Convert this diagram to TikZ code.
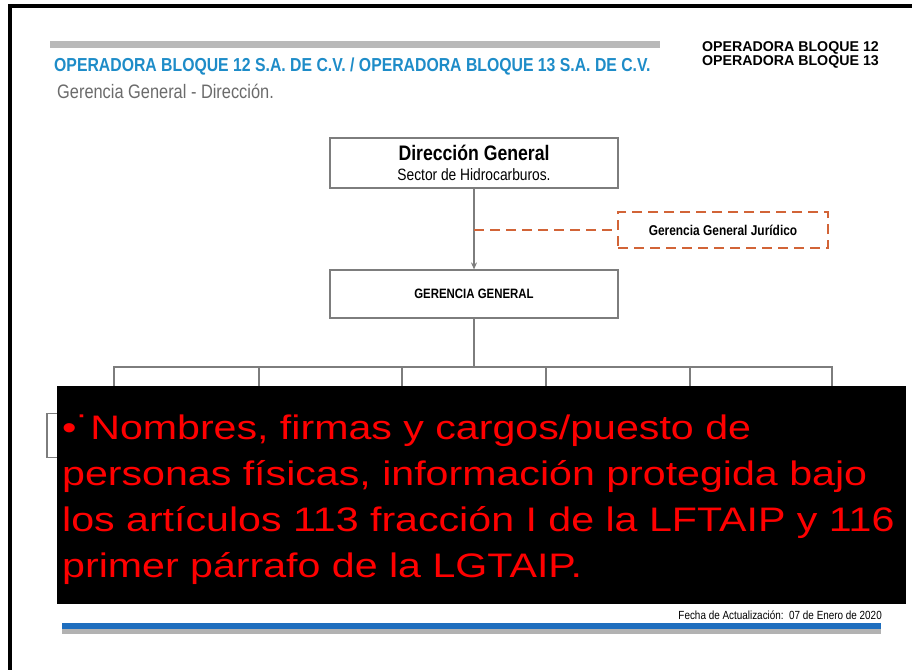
\documentclass[tikz,border=0pt]{standalone}
\usepackage{fontspec}
\setmainfont{Liberation Sans}
\newfontfamily\narrowsf[FakeStretch=0.84]{Liberation Sans}
\newfontfamily\widesf[FakeStretch=1.21]{Liberation Sans}
\usetikzlibrary{positioning,arrows.meta}
\definecolor{titleblue}{RGB}{30,140,200}
\definecolor{barblue}{RGB}{30,110,190}
\definecolor{linegray}{RGB}{125,125,125}
\definecolor{dashorange}{RGB}{210,100,55}
\begin{document}
\begin{tikzpicture}[x=1pt,y=-1pt,
  orgbox/.style={draw=linegray,line width=1.2pt,minimum width=288pt,minimum height=48pt,inner sep=0pt,align=center},
  childbox/.style={draw=linegray,line width=1.2pt,minimum width=134pt,minimum height=44pt,anchor=north},
  conn/.style={draw=linegray,line width=1.2pt},
  orangedash/.style={draw=dashorange,line width=2pt,dash pattern=on 10pt off 6pt},
  dashbox/.style={orangedash,minimum width=210pt,minimum height=36pt,inner sep=0pt}]
\useasboundingbox (0,0) rectangle (912,670);
% marco
\fill[black] (8,4) rectangle (912,8);
\fill[black] (8,4) rectangle (12,670);
% encabezado
\fill[gray!55] (50,41) rectangle (660,48);
\node[anchor=base west,inner sep=0pt,text=titleblue,font=\narrowsf\bfseries\fontsize{18.8}{18.8}\selectfont] (titulo) at (54,71) {OPERADORA BLOQUE 12 S.A. DE C.V. / OPERADORA BLOQUE 13 S.A. DE C.V.};
\node[anchor=base west,inner sep=0pt,text=black!58,font=\narrowsf\fontsize{19.5}{19.5}\selectfont] (subtitulo) at (57,98) {Gerencia General - Dirección.};
\node[anchor=base east,inner sep=0pt,font=\bfseries\fontsize{14.2}{14.2}\selectfont] (bloque12) at (879,51) {OPERADORA BLOQUE 12};
\node[anchor=base east,inner sep=0pt,font=\bfseries\fontsize{14.2}{14.2}\selectfont] (bloque13) at (879,65) {OPERADORA BLOQUE 13};
% organigrama
\node[orgbox,minimum height=50pt,font=\narrowsf\fontsize{16.4}{20}\selectfont] (dirgen) at (474,163) {{\bfseries\fontsize{21}{21}\selectfont Dirección General}\\Sector de Hidrocarburos.};
\node[orgbox] (gergen) at (474,294) {\narrowsf\bfseries\fontsize{13.6}{13.6}\selectfont GERENCIA GENERAL};
\node[dashbox] (juridico) at (723,230) {\narrowsf\bfseries\fontsize{14.2}{14.2}\selectfont Gerencia General Jurídico};
\draw[conn,-{Stealth[length=7pt,width=6pt]}] (dirgen) -- (gergen);
\coordinate (rama) at (dirgen.south |- juridico.west);
\draw[orangedash] (rama) -- (juridico.west);
\coordinate (bus) at (474,367);
\draw[conn] (gergen) -- (bus);
\foreach \i/\x in {1/114,2/259,3/402,4/546,5/690,6/832}{
  \node[childbox] (hijo\i) at (\x,413) {};
  \draw[conn] (bus) -| (hijo\i);
}
% recuadro de testado
\fill[black] (57,386) rectangle (906,604);
\node[anchor=north west,inner sep=0pt,text=red,align=left,font=\widesf\fontsize{34}{46}\selectfont] (leyenda) at (62,415) {•˙Nombres, firmas y cargos/puesto de\\personas físicas, información protegida bajo\\los artículos 113 fracción I de la LFTAIP y 116\\primer párrafo de la LGTAIP.};
% pie
\node[anchor=base east,inner sep=0pt,font=\narrowsf\fontsize{11.8}{11.8}\selectfont] (fecha) at (882,619) {Fecha de Actualización:\ \ 07 de Enero de 2020};
\fill[barblue] (62,623) rectangle (881,629);
\fill[gray!60] (62,629) rectangle (881,634);
\end{tikzpicture}
\end{document}
